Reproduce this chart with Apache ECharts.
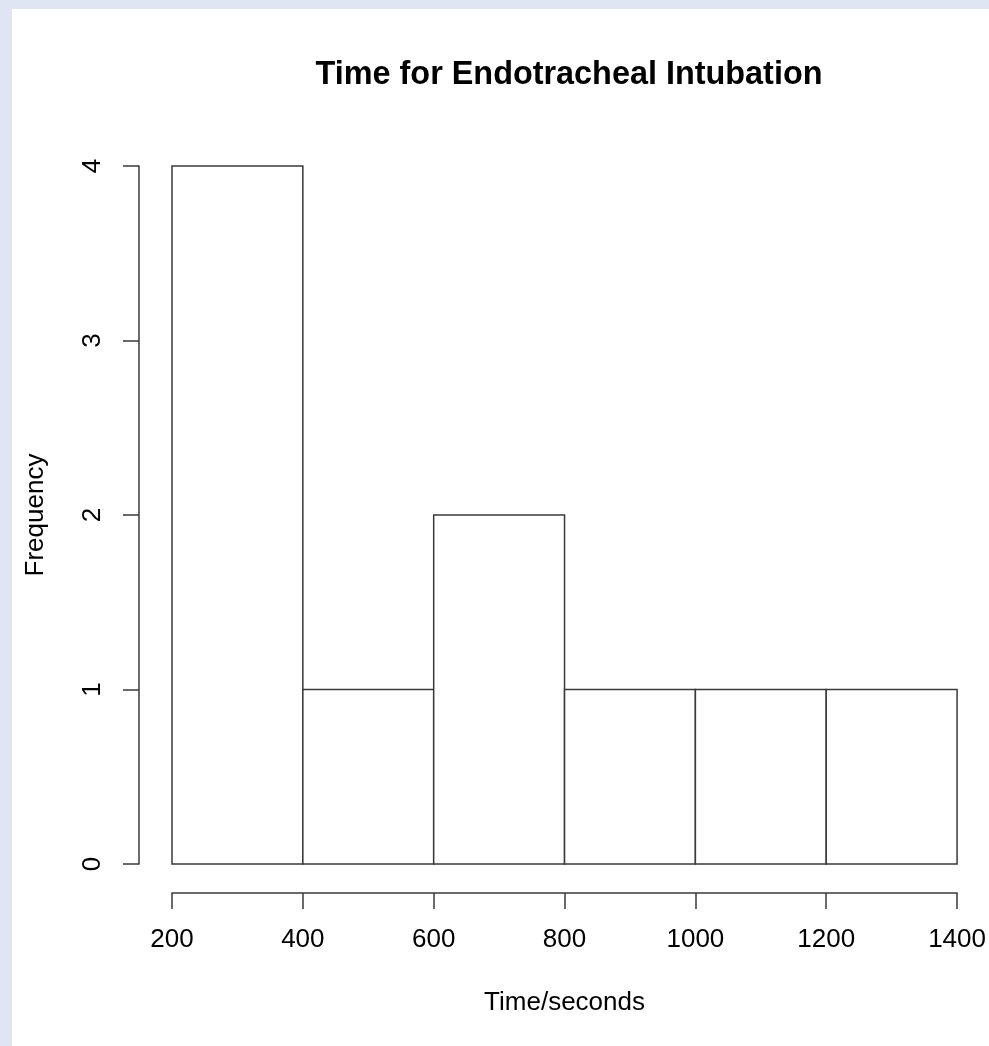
<!DOCTYPE html>
<html>
<head>
<meta charset="utf-8">
<script src="https://cdn.jsdelivr.net/npm/echarts@6/dist/echarts.min.js"></script>
<style>
  html, body { margin: 0; padding: 0; background: #dfe5f3; overflow: hidden; }
  #main { position: absolute; left: 12px; top: 9px; width: 977px; height: 1037px; background: #ffffff; }
</style>
</head>
<body>
<div id="main"></div>
<script>
'use strict';

// histogram bins (seconds) and counts
var binStarts = [200, 400, 600, 800, 1000, 1200];
var binEnds = [400, 600, 800, 1000, 1200, 1400];
var counts = [4, 1, 2, 1, 1, 1];

var lineColor = '#3a3a3a';
var fontFamily = '"Liberation Sans", Arial, Helvetica, sans-serif';

var myChart = echarts.init(document.getElementById('main'));

var seriesData = binStarts.map(function (s, i) {
  return [s, binEnds[i], counts[i]];
});

var option = {
  animation: false,
  title: {
    text: 'Time for Endotracheal Intubation',
    left: 552,
    top: 45,
    textAlign: 'center',
    textStyle: {
      fontFamily: fontFamily,
      fontWeight: 'bold',
      fontSize: 32.4,
      color: '#000'
    }
  },
  grid: {
    left: 160,
    right: 27,
    top: 157,
    bottom: 182
  },
  xAxis: {
    type: 'value',
    min: 200,
    max: 1400,
    interval: 200,
    offset: 29,
    name: 'Time/seconds',
    nameLocation: 'middle',
    nameGap: 97,
    nameTextStyle: { fontFamily: fontFamily, fontSize: 26, color: '#000' },
    axisLine: { show: true, onZero: false, lineStyle: { color: lineColor, width: 1.5 } },
    axisTick: { show: true, length: 16, lineStyle: { color: lineColor, width: 1.5 } },
    axisLabel: {
      margin: 34,
      fontFamily: fontFamily,
      fontSize: 26,
      color: '#000',
      formatter: function (v) { return String(v); }
    },
    splitLine: { show: false }
  },
  yAxis: {
    type: 'value',
    min: 0,
    max: 4,
    interval: 1,
    offset: 33,
    name: 'Frequency',
    nameLocation: 'middle',
    nameGap: 90,
    nameTextStyle: { fontFamily: fontFamily, fontSize: 26, color: '#000' },
    axisLine: { show: true, onZero: false, lineStyle: { color: lineColor, width: 1.5 } },
    axisTick: { show: true, length: 16, lineStyle: { color: lineColor, width: 1.5 } },
    axisLabel: { margin: 33, rotate: 90, fontFamily: fontFamily, fontSize: 26, color: '#000' },
    splitLine: { show: false }
  },
  series: [{
    type: 'custom',
    data: seriesData,
    encode: { x: [0, 1], y: 2 },
    renderItem: function (params, api) {
      var p0 = api.coord([api.value(0), api.value(2)]);
      var p1 = api.coord([api.value(1), 0]);
      return {
        type: 'rect',
        shape: { x: p0[0], y: p0[1], width: p1[0] - p0[0], height: p1[1] - p0[1] },
        style: { fill: '#ffffff', stroke: lineColor, lineWidth: 1.5 }
      };
    }
  }]
};

myChart.setOption(option);
</script>
</body>
</html>
